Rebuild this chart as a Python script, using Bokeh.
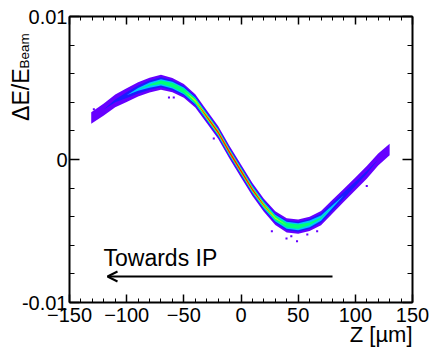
import math
from bokeh.plotting import figure
from bokeh.models import (Range1d, LinearAxis, FixedTicker, Label, Arrow, OpenHead,
                          CustomJSTickFormatter)
from bokeh.embed import file_html
from bokeh.resources import INLINE

# ---- data ----
Z = [-131, -120, -110, -100, -90, -80, -70, -60, -50, -40, -30, -20, -10, 0,
     10, 20, 30, 40, 50, 60, 70, 80, 90, 100, 110, 120, 130]
CENTER = [0.0029, 0.0035, 0.0041, 0.0045, 0.0049, 0.0052, 0.0054, 0.0052, 0.0048,
          0.0041, 0.0030, 0.0019, 0.0005, -0.0008, -0.0021, -0.0032, -0.0041,
          -0.0046, -0.0047, -0.0045, -0.0041, -0.0033, -0.0025, -0.0017, -0.0009,
          0.0000, 0.0007]
# half-widths of the colour levels of the band (violet, blue, cyan, green, yellow, red)
W_VIOLET = [0.00040, 0.00042, 0.00045, 0.00048, 0.00050, 0.00052, 0.00052, 0.00050,
            0.00048, 0.00046, 0.00045, 0.00045, 0.00045, 0.00045, 0.00045, 0.00046,
            0.00048, 0.00050, 0.00050, 0.00050, 0.00050, 0.00048, 0.00046, 0.00045,
            0.00044, 0.00042, 0.00040]
W_BLUE = [0, 0, 0.00010, 0.00020, 0.00028, 0.00032, 0.00035, 0.00035, 0.00034,
          0.00032, 0.00031, 0.00031, 0.00031, 0.00031, 0.00031, 0.00031, 0.00032,
          0.00034, 0.00035, 0.00034, 0.00032, 0.00028, 0.00022, 0.00015, 0.00010, 0, 0]
W_CYAN = [0, 0, 0, 0, 0.00010, 0.00018, 0.00022, 0.00024, 0.00024, 0.00024, 0.00024,
          0.00024, 0.00024, 0.00024, 0.00024, 0.00024, 0.00024, 0.00025, 0.00025,
          0.00023, 0.00018, 0.00010, 0, 0, 0, 0, 0]
W_GREEN = [0, 0, 0, 0, 0, 0.00005, 0.00012, 0.00015, 0.00016, 0.00018, 0.00019,
           0.00019, 0.00019, 0.00019, 0.00019, 0.00018, 0.00017, 0.00016, 0.00015,
           0.00010, 0.00004, 0, 0, 0, 0, 0, 0]
W_YELLOW = [0, 0, 0, 0, 0, 0, 0, 0, 0, 0.00007, 0.00013, 0.00014, 0.00014, 0.00014,
            0.00013, 0.00010, 0.00005, 0, 0, 0, 0, 0, 0, 0, 0, 0, 0]
W_RED = [0, 0, 0, 0, 0, 0, 0, 0, 0, 0, 0.00006, 0.00008, 0.00009, 0.00009, 0.00008,
         0.00004, 0, 0, 0, 0, 0, 0, 0, 0, 0, 0, 0]
LEVEL_COLORS = ["#6600ff", "#1a1aff", "#00c8ff", "#00ff78", "#c8ff00", "#ff1400"]

OUT_Z = [-128.7, -63.0, -58.8, -23.8, 27.0, 39.8, 44.0, 49.0, 58.0, 66.6, 110.0]
OUT_DE = [0.00352, 0.00434, 0.00434, 0.00146, -0.00502, -0.00553, -0.00537, -0.00572,
          -0.00525, -0.00502, -0.00186]

X_LIM = (-150, 150)
Y_LIM = (-0.01, 0.01)
X_TICKS = [-150, -100, -50, 0, 50, 100, 150]
X_MINOR = list(range(-150, 151, 10))
Y_TICKS = [-0.01, 0.0, 0.01]
Y_MINOR = [-0.01, -0.008, -0.006, -0.004, -0.002, 0.0, 0.002, 0.004, 0.006, 0.008, 0.01]

FONT = "Liberation Sans"
W, H = 432, 348
# pixel box of the plot area on the canvas
LEFT, RIGHT, TOP, BOTTOM = 69, 412, 16, 302
kx = (RIGHT - LEFT) / (X_LIM[1] - X_LIM[0])
ky = (BOTTOM - TOP) / (Y_LIM[1] - Y_LIM[0])
X0 = X_LIM[0] - LEFT / kx
X1 = X0 + W / kx
Y1 = Y_LIM[1] + TOP / ky
Y0 = Y1 - H / ky


def sx(px):
    return X0 + px / kx


def sy(py):
    return Y1 - py / ky


p = figure(width=W, height=H, output_backend="svg", toolbar_location=None,
           x_range=Range1d(X0, X1), y_range=Range1d(Y0, Y1), min_border=0,
           x_axis_location=None, y_axis_location=None)
p.grid.visible = False
p.outline_line_color = None
p.background_fill_color = "white"
p.border_fill_color = "white"

# band layers
widths = [W_VIOLET, W_BLUE, W_CYAN, W_GREEN, W_YELLOW, W_RED]
for w, col in zip(widths, LEVEL_COLORS):
    p.varea(x=Z, y1=[c - h for c, h in zip(CENTER, w)],
            y2=[c + h for c, h in zip(CENTER, w)], fill_color=col)
p.rect(x=OUT_Z, y=OUT_DE, width=1.8, height=0.00014, fill_color=LEVEL_COLORS[0],
       line_color=None)


def make_axis(loc, bounds, ticks, minor, tick_in, minor_in, show_labels, standoff):
    ax = LinearAxis(fixed_location=loc, bounds=bounds,
                    ticker=FixedTicker(ticks=ticks, minor_ticks=minor))
    ax.major_tick_in = tick_in
    ax.major_tick_out = 0
    ax.minor_tick_in = minor_in
    ax.minor_tick_out = 0
    ax.major_tick_line_color = "black"
    ax.minor_tick_line_color = "black"
    ax.major_tick_line_width = 1.5
    ax.minor_tick_line_width = 1
    ax.axis_line_color = "black"
    ax.axis_line_width = 2
    ax.major_label_text_font = FONT
    ax.major_label_text_font_size = "20px"
    ax.major_label_text_color = "black"
    ax.major_label_standoff = standoff
    if not show_labels:
        ax.formatter = CustomJSTickFormatter(code="return ''")
    return ax


xb = make_axis(Y_LIM[0], X_LIM, X_TICKS, X_MINOR, 8, 4, True, 5)
p.add_layout(xb, "below")
yl = make_axis(X_LIM[0], Y_LIM, Y_TICKS, Y_MINOR, 10, 5, True, 2)
yl.formatter = CustomJSTickFormatter(code="return tick == 0 ? '0' : tick.toFixed(2);")
p.add_layout(yl, "left")
xt = make_axis(Y_LIM[1], X_LIM, X_TICKS, X_MINOR, 8, 4, False, 0)
p.add_layout(xt, "above")
yr = make_axis(X_LIM[1], Y_LIM, Y_TICKS, Y_MINOR, 10, 5, False, 0)
p.add_layout(yr, "right")

# axis titles
p.add_layout(Label(x=sx(412), y=sy(334), text="Z [\u00b5m]", text_align="right",
                   text_baseline="alphabetic", text_font=FONT,
                   text_font_size="22px", text_color="black"))
p.add_layout(Label(x=sx(20), y=sy(68), text="\u0394E/E", text_align="right",
                   text_baseline="alphabetic", angle=math.pi / 2, text_font=FONT,
                   text_font_size="23px", text_color="black"))
p.add_layout(Label(x=sx(24), y=sy(68), text="Beam", text_align="left",
                   text_baseline="alphabetic", angle=math.pi / 2, text_font=FONT,
                   text_font_size="13.5px", text_color="black"))

# annotation
p.add_layout(Label(x=sx(103), y=sy(257), text="Towards IP", text_align="left",
                   text_baseline="alphabetic", text_font=FONT,
                   text_font_size="23px", text_color="black"))
p.add_layout(Arrow(end=OpenHead(size=10, line_width=2, line_color="black"),
                   x_start=sx(332), y_start=sy(276), x_end=sx(107), y_end=sy(276),
                   line_width=2, line_color="black"))

open("out.html", "w").write(file_html(p, INLINE))
